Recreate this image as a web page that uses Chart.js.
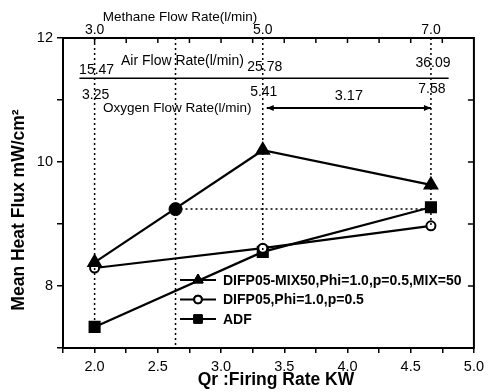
<!DOCTYPE html>
<html>
<head>
<meta charset="utf-8">
<script src="https://cdn.jsdelivr.net/npm/chart.js@4/dist/chart.umd.min.js"></script>
<style>
  html, body { margin: 0; padding: 0; background: #fff; }
  #wrap { width: 489px; height: 392px; position: relative; }
</style>
</head>
<body>
<div id="wrap"><canvas id="chart"></canvas></div>
<script>
// firing rate (KW) and heat flux values
var firingRate = [2.0, 3.33, 4.66];
var mix50Flux = [8.38, 10.19, 9.63];
var difp05Flux = [8.29, 8.61, 8.97];
var adfFlux = [7.34, 8.55, 9.27];
var markX = [2.64];
var markFlux = [9.24];

// flow rate labels along the top
var methaneLabels = ['3.0', '5.0', '7.0'];
var airLabels = ['15.47', '25.78', '36.09'];
var oxygenLabels = ['3.25', '5.41', '7.58'];
var oxygenDiff = '3.17';

var seriesNames = ['DIFP05-MIX50,Phi=1.0,p=0.5,MIX=50', 'DIFP05,Phi=1.0,p=0.5', 'ADF'];

function pts(xs, ys) {
  return xs.map(function(x, i) { return { x: x, y: ys[i] }; });
}

var FONT = '"Liberation Sans", Arial, sans-serif';
var dotted = { borderColor: '#000', borderWidth: 1.5, borderDash: [2, 3], pointRadius: 0, showLine: true, fill: false };

var datasets = [
  // dotted guide lines
  Object.assign({ data: [{ x: firingRate[0], y: 12 }, { x: firingRate[0], y: adfFlux[0] }] }, dotted),
  Object.assign({ data: [{ x: markX[0], y: 12 }, { x: markX[0], y: 7 }] }, dotted),
  Object.assign({ data: [{ x: firingRate[1], y: 12 }, { x: firingRate[1], y: adfFlux[1] }] }, dotted),
  Object.assign({ data: [{ x: firingRate[2], y: 12 }, { x: firingRate[2], y: difp05Flux[2] }] }, dotted),
  Object.assign({ data: [{ x: markX[0], y: markFlux[0] }, { x: firingRate[2], y: markFlux[0] }] }, dotted),
  {
    label: seriesNames[0], data: pts(firingRate, mix50Flux), showLine: true,
    borderColor: '#000', borderWidth: 2.2, pointStyle: 'triangle', pointRadius: 7,
    pointBackgroundColor: '#000', pointBorderColor: '#000'
  },
  {
    label: seriesNames[1], data: pts(firingRate, difp05Flux), showLine: true,
    borderColor: '#000', borderWidth: 2.2, pointStyle: 'circle', pointRadius: 4.5,
    pointBackgroundColor: '#fff', pointBorderColor: '#000', pointBorderWidth: 2
  },
  {
    label: seriesNames[2], data: pts(firingRate, adfFlux), showLine: true,
    borderColor: '#000', borderWidth: 2.2, pointStyle: 'rect', pointRadius: 7,
    pointBackgroundColor: '#000', pointBorderColor: '#000'
  },
  {
    data: pts(markX, markFlux), showLine: false, pointStyle: 'circle', pointRadius: 6.5,
    pointBackgroundColor: '#000', pointBorderColor: '#000'
  }
];

// frame, inner ticks, flow rate annotations, legend and axis titles
var decor = {
  id: 'decor',
  afterDraw: function(chart) {
    var ctx = chart.ctx;
    var a = chart.chartArea;
    var xs = chart.scales.x, ys = chart.scales.y;
    ctx.save();
    ctx.strokeStyle = '#000';
    ctx.fillStyle = '#000';
    ctx.lineWidth = 2;
    ctx.strokeRect(a.left, a.top, a.right - a.left, a.bottom - a.top);

    // inward ticks on top and right
    ctx.lineWidth = 1.5;
    for (var t = 2.0; t <= 4.76; t += 0.25) {
      var px = xs.getPixelForValue(t);
      ctx.beginPath(); ctx.moveTo(px, a.top); ctx.lineTo(px, a.top + 5); ctx.stroke();
    }
    for (var v = 8; v <= 11; v++) {
      var py = ys.getPixelForValue(v);
      ctx.beginPath(); ctx.moveTo(a.right, py); ctx.lineTo(a.right - 6, py); ctx.stroke();
    }

    // methane
    ctx.textAlign = 'center';
    ctx.textBaseline = 'middle';
    ctx.font = '13.5px ' + FONT;
    ctx.fillText('Methane Flow Rate(l/min)', 180, 17);
    ctx.font = '14px ' + FONT;
    var methY = [30, 30, 30];
    var airY = [70, 67, 63];
    var oxY = [95, 92, 89];
    firingRate.forEach(function(fr, i) {
      var px = xs.getPixelForValue(fr);
      ctx.fillText(methaneLabels[i], px, methY[i]);
      ctx.fillText(airLabels[i], px + 2, airY[i]);
      ctx.fillText(oxygenLabels[i], px + 1, oxY[i]);
    });

    // air flow line
    var airLineY = ys.getPixelForValue(11.35);
    ctx.lineWidth = 1.5;
    ctx.beginPath();
    ctx.moveTo(xs.getPixelForValue(1.88), airLineY);
    ctx.lineTo(xs.getPixelForValue(4.80), airLineY);
    ctx.stroke();
    ctx.textAlign = 'left';
    ctx.font = '14px ' + FONT;
    ctx.fillText('Air Flow Rate(l/min)', 121, 61);
    ctx.font = '13.5px ' + FONT;
    ctx.fillText('Oxygen Flow Rate(l/min)', 103, 108);

    // oxygen difference arrow
    var ay = 108;
    var x1 = xs.getPixelForValue(firingRate[1]) + 4;
    var x2 = xs.getPixelForValue(firingRate[2]);
    ctx.lineWidth = 2;
    ctx.beginPath(); ctx.moveTo(x1, ay); ctx.lineTo(x2, ay); ctx.stroke();
    ctx.beginPath(); ctx.moveTo(x1, ay); ctx.lineTo(x1 + 7, ay - 3); ctx.lineTo(x1 + 7, ay + 3); ctx.closePath(); ctx.fill();
    ctx.beginPath(); ctx.moveTo(x2, ay); ctx.lineTo(x2 - 7, ay - 3); ctx.lineTo(x2 - 7, ay + 3); ctx.closePath(); ctx.fill();
    ctx.textAlign = 'center';
    ctx.font = '14.5px ' + FONT;
    ctx.fillText(oxygenDiff, (x1 + x2) / 2, 96);

    // legend
    var styles = [chart.data.datasets[5], chart.data.datasets[6], chart.data.datasets[7]];
    ctx.font = 'bold 14px ' + FONT;
    ctx.textAlign = 'left';
    styles.forEach(function(ds, i) {
      var ly = 280 + i * 19.5;
      ctx.strokeStyle = '#000';
      ctx.lineWidth = 2;
      ctx.beginPath(); ctx.moveTo(180, ly); ctx.lineTo(216, ly); ctx.stroke();
      ctx.fillStyle = ds.pointBackgroundColor;
      ctx.lineWidth = ds.pointBorderWidth || 1;
      Chart.helpers.drawPoint(ctx, { pointStyle: ds.pointStyle, radius: ds.pointRadius * 0.85, borderWidth: ds.pointBorderWidth || 1 }, 198, ly);
      if (ds.pointBackgroundColor) { ctx.fill(); }
      ctx.stroke();
      ctx.fillStyle = '#000';
      ctx.fillText(ds.label, 223, ly + 1);
    });

    // axis titles
    ctx.font = 'bold 17.5px ' + FONT;
    ctx.textAlign = 'center';
    ctx.fillText('Qr :Firing Rate KW', 276, 380);
    ctx.save();
    ctx.translate(19, 210);
    ctx.rotate(-Math.PI / 2);
    ctx.font = 'bold 17.5px ' + FONT;
    ctx.fillText('Mean Heat Flux mW/cm\u00B2', 0, 0);
    ctx.restore();
    ctx.restore();
  }
};

new Chart(document.getElementById('chart'), {
  type: 'scatter',
  data: { datasets: datasets },
  options: {
    responsive: true,
    maintainAspectRatio: false,
    animation: false,
    layout: { padding: { top: 38, right: 10, left: 0, bottom: 0 } },
    plugins: { legend: { display: false }, tooltip: { enabled: false } },
    scales: {
      x: {
        type: 'linear', min: 1.75, max: 5.0,
        afterFit: function(s) { s.height = 44; },
        border: { display: false },
        grid: { drawOnChartArea: false, drawTicks: true, tickLength: 5, color: '#000', lineWidth: 1.5 },
        ticks: {
          stepSize: 0.25, padding: 5, color: '#000', maxRotation: 0, autoSkip: false,
          font: { family: FONT, size: 14.5 },
          callback: function(v) { return (Math.abs(v * 2 - Math.round(v * 2)) < 1e-6 && v >= 2) ? v.toFixed(1) : ''; }
        }
      },
      y: {
        min: 7, max: 12,
        afterFit: function(s) { s.width = 63; },
        border: { display: false },
        grid: { drawOnChartArea: false, drawTicks: true, tickLength: 6, color: '#000', lineWidth: 1.5 },
        ticks: {
          stepSize: 1, padding: 4, color: '#000',
          font: { family: FONT, size: 14.5 },
          callback: function(v) { return v % 2 === 0 ? String(v) : ''; }
        }
      }
    }
  },
  plugins: [decor]
});
</script>
</body>
</html>
